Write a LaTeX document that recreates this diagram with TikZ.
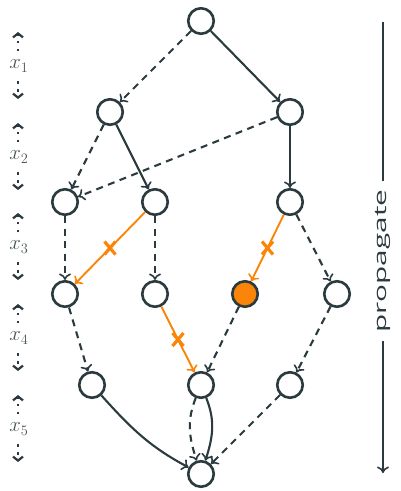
\documentclass[tikz,border=0pt]{standalone}
\usepackage{fontspec}
\setsansfont{Open Sans}
\usetikzlibrary{arrows.meta}
\definecolor{ink}{HTML}{2B3A3E}
\definecolor{org}{HTML}{FA8508}
\definecolor{lbl}{HTML}{4A5559}
\tikzset{
  vtx/.style={circle,draw=ink,line width=2.6pt,minimum size=25.5pt,inner sep=0pt,fill=white},
  hot/.style={vtx,fill=org},
  tip/.style={-{Computer Modern Rightarrow[length=6.5pt,width=12pt,line width=1.6pt]}},
  sol/.style={draw=ink,line width=2.1pt,tip},
  das/.style={sol,dash pattern=on 7pt off 5.5pt},
  bad/.style={draw=org,line width=1.9pt,tip},
  badx/.style={draw=org,line width=3.2pt},
  lvl/.style={lbl,font=\fontsize{22}{26}\selectfont},
  dotar/.style={draw=ink,line width=2.4pt,dash pattern=on 2.5pt off 5.5pt,-{Straight Barb[length=4pt,width=10pt,line width=2.2pt]}},
}
\begin{document}
\begin{tikzpicture}[x=1pt,y=-1pt]
\useasboundingbox (0,0) rectangle (401,491);
% vertices
\node[vtx] (t) at (201,21) {};
\node[vtx] (a1) at (110,112) {};
\node[vtx] (b1) at (290,112) {};
\node[vtx] (a2) at (65,202) {};
\node[vtx] (b2) at (155,202) {};
\node[vtx] (c2) at (290,202) {};
\node[vtx] (a3) at (65,294) {};
\node[vtx] (b3) at (155,294) {};
\node[hot] (c3) at (245,294) {};
\node[vtx] (d3) at (337,294) {};
\node[vtx] (a4) at (92,385) {};
\node[vtx] (b4) at (201,385) {};
\node[vtx] (c4) at (290,385) {};
\node[vtx] (z) at (201,474) {};
% edges
\draw[das] (t) -- (a1);
\draw[sol] (t) -- (b1);
\draw[das] (a1) -- (a2);
\draw[sol] (a1) -- (b2);
\draw[das] (b1) -- (a2);
\draw[sol] (b1) -- (c2);
\draw[das] (a2) -- (a3);
\draw[bad] (b2) -- coordinate[pos=0.5] (x1) (a3);
\draw[das] (b2) -- (b3);
\draw[bad] (c2) -- coordinate[pos=0.5] (x2) (c3);
\draw[das] (c2) -- (d3);
\draw[das] (a3) -- (a4);
\draw[bad] (b3) -- coordinate[pos=0.5] (x3) (b4);
\draw[das] (c3) -- (b4);
\draw[das] (d3) -- (c4);
\draw[sol] (a4) to[out=-48,in=152] (z);
\draw[das] (b4) to[out=-112,in=108] (z);
\draw[sol] (b4) to[out=-68,in=72] (z);
\draw[das] (c4) -- (z);
% crosses
\foreach \c in {x1,x2,x3}{
  \draw[badx] ([shift={(-5.5,-6.5)}]\c) -- ([shift={(5.5,6.5)}]\c);
  \draw[badx] ([shift={(5.5,-6.5)}]\c) -- ([shift={(-5.5,6.5)}]\c);
}
% level labels
\foreach \i/\y in {1/66,2/157,3/247,4/338,5/429}{
  \node[lvl] (l\i) at (19,\y) {$x_{\i}$};
  \coordinate (u\i) at (18,\y-15);
  \coordinate (uu\i) at (18,\y-34);
  \coordinate (d\i) at (18,\y+15);
  \coordinate (dd\i) at (18,\y+33);
  \draw[dotar] (u\i) -- (uu\i);
  \draw[dotar] (d\i) -- (dd\i);
}
% propagate
\node[ink,rotate=90,font=\sffamily\fontsize{17}{20}\selectfont,inner sep=0pt] (pr) at (383,261) {\scalebox{1.75}[1]{propagate}};
\coordinate (p0) at (383,22);
\coordinate (p1) at (383,473);
\draw[ink,line width=2pt] (p0) -- ([yshift=9pt]pr.east);
\draw[ink,line width=2pt,tip] ([yshift=-9pt]pr.west) -- (p1);
\end{tikzpicture}
\end{document}
